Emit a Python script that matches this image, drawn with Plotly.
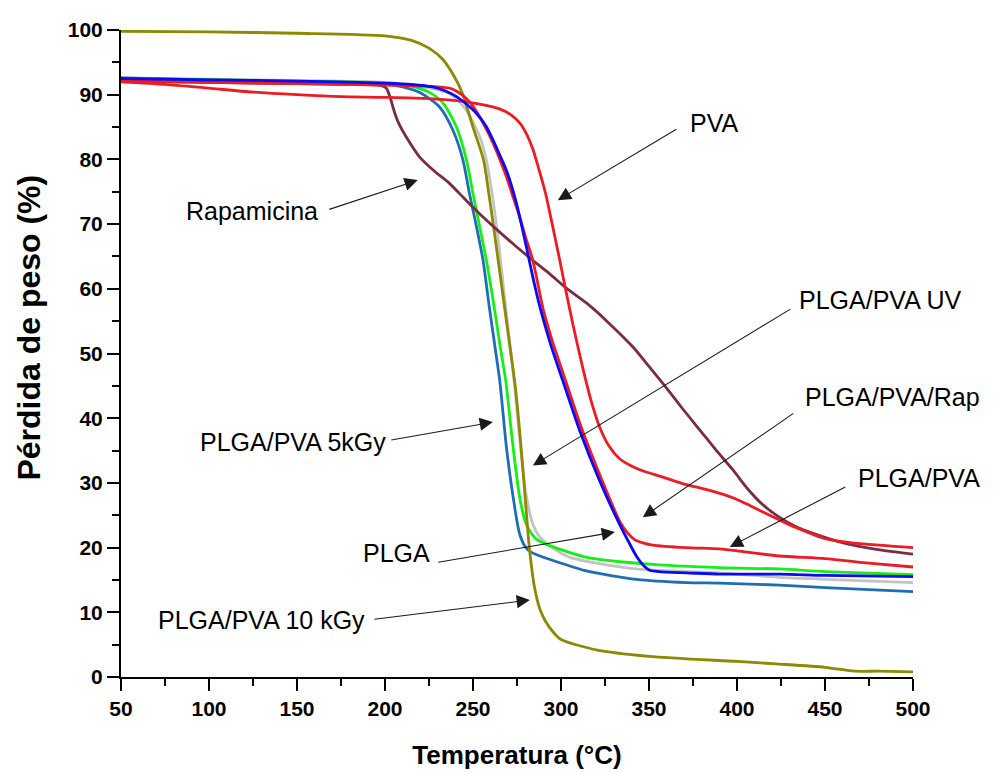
import plotly.graph_objects as go

# ---------------- data ----------------
olive_T = [50, 100, 150, 200, 215, 225, 233, 240, 244, 250, 256, 259, 262, 265, 268, 271, 274, 277, 280, 282, 285, 288, 291, 296, 300, 320, 350, 400, 424, 450, 467, 480, 500]
olive_V = [99.8, 99.7, 99.5, 99.1, 98.4, 97.2, 95.4, 92.5, 90.2, 85.0, 79.9, 74.7, 69.0, 63.0, 57.0, 51.0, 45.0, 36.5, 26.5, 20.0, 13.8, 10.5, 8.7, 6.8, 5.8, 4.2, 3.2, 2.4, 2.0, 1.5, 0.9, 0.9, 0.8]

teal_T = [50, 100, 150, 200, 210, 220, 231, 238.6, 244.3, 248, 252, 255.7, 259.5, 262.5, 265.2, 269, 272.8, 276.5, 280, 283, 288, 295.5, 314.4, 342.8, 371.3, 390, 424, 450, 500]
teal_V = [92.6, 92.3, 92.0, 91.6, 91.2, 90.3, 88.1, 84.5, 79.9, 74.7, 69.6, 64.4, 56.7, 51.0, 45.8, 35.5, 27.8, 22.1, 20.0, 19.3, 18.7, 18.0, 16.4, 15.1, 14.6, 14.5, 14.2, 13.8, 13.2]

green_T = [50, 100, 150, 200, 215, 225, 233, 240.6, 246.3, 250, 253.8, 257.6, 262.3, 265.5, 268.6, 272.8, 276.5, 280, 282.2, 286, 291.7, 314.4, 352.3, 390, 424, 450, 500]
green_V = [92.5, 92.3, 92.1, 91.8, 91.3, 90.4, 88.7, 85.0, 79.9, 74.7, 69.6, 64.4, 56.7, 51.0, 45.8, 35.5, 27.8, 23.8, 22.6, 21.3, 20.5, 18.5, 17.4, 16.9, 16.7, 16.3, 15.8]

gray_T = [50, 100, 150, 200, 220, 236.7, 246.2, 253.8, 257.6, 261.4, 265, 268, 271, 274, 277, 280, 284, 288, 295, 305, 342.8, 390, 424, 450, 500]
gray_V = [92.6, 92.4, 92.2, 91.9, 91.3, 90.2, 87.6, 83.5, 79.9, 73.7, 66.0, 58.5, 51.5, 44.0, 35.5, 28.5, 23.6, 21.6, 20.0, 18.5, 16.7, 16.1, 15.4, 15.1, 14.6]

blue_T = [50, 100, 150, 200, 215, 227, 234, 240.6, 246, 252, 257, 261.4, 265, 269, 274.7, 280.3, 284, 288, 294, 301, 310.6, 322, 333.3, 339, 342.8, 347, 350.4, 360, 371.3, 390, 424, 450, 500]
blue_V = [92.5, 92.3, 92.1, 91.8, 91.6, 91.2, 90.6, 89.7, 88.6, 87.1, 85.3, 83.0, 80.8, 78.3, 73.2, 66.5, 61.8, 57.2, 51.5, 45.8, 38.1, 30.3, 23.6, 20.6, 18.7, 17.2, 16.5, 16.2, 16.1, 15.9, 15.9, 15.7, 15.5]

redrap_T = [50, 100, 150, 200, 225, 237, 241, 246.2, 250, 253.8, 257.5, 261.4, 265, 269, 272.5, 276.5, 280.3, 284, 290, 295, 302, 311.5, 323, 333.3, 338, 342, 347, 352, 371, 390, 400, 424, 450, 475, 500]
redrap_V = [92.1, 91.9, 91.7, 91.5, 91.3, 91.0, 90.5, 89.4, 88.2, 86.6, 84.7, 82.5, 80.2, 77.3, 74.4, 71.1, 67.6, 64.4, 56.7, 52.0, 46.3, 38.6, 30.6, 24.1, 22.2, 21.2, 20.7, 20.4, 20.0, 19.8, 19.5, 18.7, 18.3, 17.6, 17.0]

pva_T = [50, 75, 100, 125, 150, 175, 200, 225, 246, 265, 272, 277, 281, 284, 287, 291, 295, 299, 303, 307, 312, 317, 322, 327, 333, 340, 347, 358, 369, 385, 397.6, 405, 411, 420, 430, 440, 450, 470, 500]
pva_V = [92.0, 91.6, 91.0, 90.4, 90.0, 89.7, 89.6, 89.4, 88.9, 87.8, 86.8, 85.5, 83.6, 81.6, 78.9, 75.0, 70.0, 64.8, 59.4, 54.2, 48.2, 42.8, 38.6, 35.8, 33.8, 32.6, 31.8, 30.9, 29.9, 28.8, 27.7, 26.8, 26.0, 24.8, 23.5, 22.4, 21.4, 20.6, 20.0]

rap_T = [50, 100, 150, 195, 198, 200.8, 203, 204.5, 206, 208.3, 212, 219.6, 228, 236.6, 246, 255.7, 265, 274.7, 284, 293.6, 303, 316.3, 328, 340.9, 350, 359.9, 369, 378.8, 388, 397.7, 406, 414.8, 424, 433, 443.2, 462.1, 480, 500]
rap_V = [92.1, 91.9, 91.7, 91.5, 91.4, 91.0, 89.5, 88.1, 86.8, 85.3, 83.5, 80.4, 78.2, 76.3, 73.7, 71.1, 68.8, 66.5, 64.4, 62.3, 60.1, 57.4, 54.5, 51.0, 48.0, 44.7, 41.5, 38.2, 35.1, 32.0, 29.1, 26.6, 24.7, 23.3, 22.2, 20.6, 19.7, 19.0]

series_names = ["PLGA/PVA UV", "PLGA/PVA 5kGy", "PLGA/PVA", "PLGA/PVA 10 kGy",
                "Rapamicina", "PVA", "PLGA/PVA/Rap", "PLGA"]

label_texts = ["PVA", "Rapamicina", "PLGA/PVA UV", "PLGA/PVA/Rap", "PLGA/PVA",
               "PLGA/PVA 5kGy", "PLGA", "PLGA/PVA 10 kGy"]

x_title = "Temperatura (°C)"
y_title = "Pérdida de peso (%)"

x_ticks = [50, 100, 150, 200, 250, 300, 350, 400, 450, 500]
y_ticks = [0, 10, 20, 30, 40, 50, 60, 70, 80, 90, 100]

# ---------------- styles ----------------
series = [
    (gray_T, gray_V, "#C3C3C3"),
    (teal_T, teal_V, "#1F6DB2"),
    (green_T, green_V, "#14F014"),
    (olive_T, olive_V, "#8C8A00"),
    (rap_T, rap_V, "#7A2C40"),
    (pva_T, pva_V, "#EC1C24"),
    (redrap_T, redrap_V, "#EC1C24"),
    (blue_T, blue_V, "#0A0AF5"),
]

fig = go.Figure()
for (T, V, col), name in zip(series, series_names):
    fig.add_trace(go.Scatter(x=T, y=V, mode="lines", name=name,
                             line=dict(color=col, width=2.8, shape="spline", smoothing=0.7),
                             showlegend=False))

# arrows: (tail_x, tail_y, head_x, head_y)
arrows = [
    (366.4, 84.8, 298.2, 73.7),
    (167.5, 72.2, 218.6, 76.8),
    (431.2, 57.0, 284.0, 32.7),
    (432.9, 40.9, 346.5, 24.7),
    (462.4, 29.5, 395.9, 20.1),
    (202.7, 36.6, 261.3, 39.4),
    (229.4, 17.7, 330.6, 22.4),
    (193.1, 8.9, 282.3, 11.9),
]
# label positions: (x, y, anchor)
label_pos = [
    (372.1, 85.6, "left"),
    (162.9, 72.0, "right"),
    (434.0, 58.2, "left"),
    (437.4, 43.3, "left"),
    (467.5, 30.7, "left"),
    (201.5, 36.3, "right"),
    (226.6, 19.1, "right"),
    (189.6, 8.8, "right"),
]

ann_font = dict(family="Liberation Sans, Arial, sans-serif", size=25, color="black")
for (tx, ty, hx, hy) in arrows:
    fig.add_annotation(x=hx, y=hy, ax=tx, ay=ty, xref="x", yref="y", axref="x", ayref="y",
                       text="", showarrow=True, arrowhead=2, arrowsize=2.4, arrowwidth=1.1,
                       arrowcolor="#1a1a1a", standoff=0, startstandoff=0)
for txt, (lx, ly, anc) in zip(label_texts, label_pos):
    fig.add_annotation(x=lx, y=ly, xref="x", yref="y", text=txt, showarrow=False,
                       xanchor=anc, yanchor="middle", font=ann_font)

tick_font = dict(family="Liberation Sans, Arial, sans-serif", size=21, color="black", weight="bold")
title_font = dict(family="Liberation Sans, Arial, sans-serif", size=26, color="black", weight="bold")
ytitle_font = dict(family="Liberation Sans, Arial, sans-serif", size=32, color="black", weight="bold")

# y-axis title as rotated annotation (sits a little above the plot centre)
fig.add_annotation(x=0, y=0.54, xref="paper", yref="paper", text=y_title, showarrow=False,
                   textangle=-90, xanchor="center", yanchor="middle", xshift=-92,
                   borderpad=0, font=ytitle_font)

fig.update_layout(
    width=995, height=772,
    margin=dict(l=113, r=90, t=22, b=103),
    paper_bgcolor="white", plot_bgcolor="white",
    xaxis=dict(range=[50, 500], tickvals=x_ticks, ticktext=[str(v) for v in x_ticks],
               automargin=False,
               showgrid=False, zeroline=False, showline=True, linecolor="black", linewidth=2,
               ticks="outside", ticklen=12, tickwidth=2, tickcolor="black", tickfont=tick_font,
               minor=dict(dtick=25, tick0=50, ticks="outside", ticklen=7, tickwidth=2, tickcolor="black"),
               title=dict(text=x_title, font=title_font, standoff=27)),
    yaxis=dict(range=[0, 100], tickvals=y_ticks, ticktext=[str(v) for v in y_ticks],
               automargin=False,
               showgrid=False, zeroline=False, showline=True, linecolor="black", linewidth=2,
               ticks="outside", ticklen=12, tickwidth=2, tickcolor="black", tickfont=tick_font,
               minor=dict(dtick=5, tick0=0, ticks="outside", ticklen=7, tickwidth=2, tickcolor="black")),
)

fig.write_html("out.html")
